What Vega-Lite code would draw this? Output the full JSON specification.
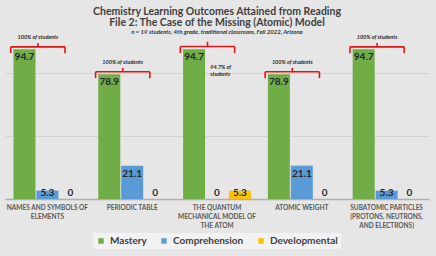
{
  "$schema": "https://vega.github.io/schema/vega-lite/v6.json",
  "width": 424,
  "height": 158,
  "autosize": "none",
  "padding": {"left": 5, "top": 41, "right": 7, "bottom": 57},
  "background": "#e6e6e6",
  "title": {
    "text": ["Chemistry Learning Outcomes Attained from Reading", "File 2: The Case of the Missing (Atomic) Model"],
    "subtitle": "n = 19 students, 4th grade, traditional classroom, Fall 2022, Arizona",
    "anchor": "middle",
    "font": "Lato",
    "fontSize": 10.5,
    "fontWeight": "bold",
    "color": "#404040",
    "lineHeight": 11,
    "subtitleFont": "Lato",
    "subtitleFontSize": 6,
    "subtitleFontStyle": "italic",
    "subtitleFontWeight": "bold",
    "subtitleColor": "#333333",
    "subtitlePadding": 0,
    "offset": 0
  },
  "config": {
    "view": {"stroke": null},
    "axis": {"labelFont": "Lato"},
    "legend": {"labelFont": "Lato", "layout": {"bottom": {"anchor": "middle"}}}
  },
  "datasets": {
    "bars": [
      {"category": "Names and Symbols of Elements", "series": "Mastery", "value": 94.7},
      {"category": "Names and Symbols of Elements", "series": "Comprehension", "value": 5.3},
      {"category": "Names and Symbols of Elements", "series": "Developmental", "value": 0},
      {"category": "Periodic Table", "series": "Mastery", "value": 78.9},
      {"category": "Periodic Table", "series": "Comprehension", "value": 21.1},
      {"category": "Periodic Table", "series": "Developmental", "value": 0},
      {"category": "The Quantum Mechanical Model of the Atom", "series": "Mastery", "value": 94.7},
      {"category": "The Quantum Mechanical Model of the Atom", "series": "Comprehension", "value": 0},
      {"category": "The Quantum Mechanical Model of the Atom", "series": "Developmental", "value": 5.3},
      {"category": "Atomic Weight", "series": "Mastery", "value": 78.9},
      {"category": "Atomic Weight", "series": "Comprehension", "value": 21.1},
      {"category": "Atomic Weight", "series": "Developmental", "value": 0},
      {"category": "Subatomic Particles (Protons, Neutrons, and Electrons)", "series": "Mastery", "value": 94.7},
      {"category": "Subatomic Particles (Protons, Neutrons, and Electrons)", "series": "Comprehension", "value": 5.3},
      {"category": "Subatomic Particles (Protons, Neutrons, and Electrons)", "series": "Developmental", "value": 0}
    ],
    "brackets": [
      {"category": "Names and Symbols of Elements", "top": 96.3, "end": 92.3, "tick": 98.8, "labelY": 102.6, "label": "100% of students"},
      {"category": "Periodic Table", "top": 80.5, "end": 76.5, "tick": 83, "labelY": 86.8, "label": "100% of students"},
      {"category": "The Quantum Mechanical Model of the Atom", "top": 96.5, "end": 92.3, "tick": 99.5, "labelY": 102.6, "label": ""},
      {"category": "Atomic Weight", "top": 80.5, "end": 76.5, "tick": 83, "labelY": 86.8, "label": "100% of students"},
      {"category": "Subatomic Particles (Protons, Neutrons, and Electrons)", "top": 96.3, "end": 92.3, "tick": 98.8, "labelY": 102.6, "label": "100% of students"}
    ],
    "notes": [
      {"category": "The Quantum Mechanical Model of the Atom", "y": 83.8, "note": ["94.7% of", "students"]}
    ]
  },
  "layer": [
    {
      "data": {"name": "bars"},
      "mark": {"type": "bar"},
      "encoding": {
        "x": {
          "field": "category", "type": "nominal",
          "sort": ["Names and Symbols of Elements", "Periodic Table", "The Quantum Mechanical Model of the Atom", "Atomic Weight", "Subatomic Particles (Protons, Neutrons, and Electrons)"],
          "scale": {"paddingInner": 0.2, "paddingOuter": 0.1},
          "axis": {
            "title": null,
            "labelAngle": 0,
            "ticks": false,
            "domainColor": "#b0b0b0",
            "domainWidth": 1.5,
            "labelColor": "#595959",
            "labelFontWeight": "bold",
            "labelFontSize": 6.5,
            "labelLineHeight": 9,
            "labelPadding": 5,
            "labelBaseline": "top",
            "labelExpr": "datum.label == 'Names and Symbols of Elements' ? ['NAMES AND SYMBOLS OF', 'ELEMENTS'] : datum.label == 'Periodic Table' ? 'PERIODIC TABLE' : datum.label == 'The Quantum Mechanical Model of the Atom' ? ['THE QUANTUM', 'MECHANICAL MODEL OF', 'THE ATOM'] : datum.label == 'Atomic Weight' ? 'ATOMIC WEIGHT' : ['SUBATOMIC PARTICLES', '(PROTONS, NEUTRONS,', 'AND ELECTRONS)']"
          }
        },
        "xOffset": {"field": "series", "type": "nominal", "sort": ["Mastery", "Comprehension", "Developmental"], "scale": {"paddingInner": 0.04}},
        "y": {
          "field": "value", "type": "quantitative",
          "scale": {"domain": [0, 100], "nice": false},
          "axis": {"title": null, "labels": false, "ticks": false, "domain": false, "grid": true, "gridColor": "#d2d2d2", "gridWidth": 1, "values": [0, 10, 20, 30, 40, 50, 60, 70, 80, 90, 100]}
        },
        "color": {
          "field": "series", "type": "nominal",
          "sort": ["Mastery", "Comprehension", "Developmental"],
          "scale": {"domain": ["Mastery", "Comprehension", "Developmental"], "range": ["#70ad47", "#5b9bd5", "#ffc000"]},
          "legend": {
            "title": null,
            "orient": "bottom",
            "direction": "horizontal",
            "symbolType": "square",
            "symbolSize": 30,
            "symbolStrokeWidth": 0,
            "labelFontSize": 10,
            "labelFontWeight": "bold",
            "labelColor": "#404040",
            "columnPadding": 12,
            "fillColor": "#f2f2f2",
            "padding": 3,
            "offset": 4
          }
        }
      }
    },
    {
      "data": {"name": "bars"},
      "transform": [{"filter": "datum.value >= 10"}],
      "mark": {"type": "text", "baseline": "middle", "dy": 8, "font": "Lato", "fontSize": 10, "fontWeight": "bold", "color": "#1f2633"},
      "encoding": {
        "x": {"field": "category", "type": "nominal", "sort": ["Names and Symbols of Elements", "Periodic Table", "The Quantum Mechanical Model of the Atom", "Atomic Weight", "Subatomic Particles (Protons, Neutrons, and Electrons)"]},
        "xOffset": {"field": "series", "type": "nominal", "sort": ["Mastery", "Comprehension", "Developmental"]},
        "y": {"field": "value", "type": "quantitative"},
        "text": {"field": "value", "type": "quantitative", "format": ".1f"}
      }
    },
    {
      "data": {"name": "bars"},
      "transform": [{"filter": "datum.value < 10"}],
      "mark": {"type": "text", "baseline": "middle", "dy": -6.5, "font": "Lato", "fontSize": 10, "fontWeight": "bold", "color": "#1f2633"},
      "encoding": {
        "x": {"field": "category", "type": "nominal", "sort": ["Names and Symbols of Elements", "Periodic Table", "The Quantum Mechanical Model of the Atom", "Atomic Weight", "Subatomic Particles (Protons, Neutrons, and Electrons)"]},
        "xOffset": {"field": "series", "type": "nominal", "sort": ["Mastery", "Comprehension", "Developmental"]},
        "y": {"datum": 0, "type": "quantitative"},
        "text": {"field": "value", "type": "quantitative", "format": "~f"}
      }
    },
    {
      "data": {"name": "brackets"},
      "mark": {"type": "rule", "color": "#e31414", "strokeWidth": 1.6},
      "encoding": {
        "x": {"field": "category", "type": "nominal", "bandPosition": -0.04, "sort": ["Names and Symbols of Elements", "Periodic Table", "The Quantum Mechanical Model of the Atom", "Atomic Weight", "Subatomic Particles (Protons, Neutrons, and Electrons)"]},
        "x2": {"field": "category", "bandPosition": 0.76},
        "y": {"field": "top", "type": "quantitative"}
      }
    },
    {
      "data": {"name": "brackets"},
      "mark": {"type": "rule", "color": "#e31414", "strokeWidth": 1.6},
      "encoding": {
        "x": {"field": "category", "type": "nominal", "bandPosition": -0.04, "sort": ["Names and Symbols of Elements", "Periodic Table", "The Quantum Mechanical Model of the Atom", "Atomic Weight", "Subatomic Particles (Protons, Neutrons, and Electrons)"]},
        "y": {"field": "top", "type": "quantitative"},
        "y2": {"field": "end"}
      }
    },
    {
      "data": {"name": "brackets"},
      "mark": {"type": "rule", "color": "#e31414", "strokeWidth": 1.6},
      "encoding": {
        "x": {"field": "category", "type": "nominal", "bandPosition": 0.76, "sort": ["Names and Symbols of Elements", "Periodic Table", "The Quantum Mechanical Model of the Atom", "Atomic Weight", "Subatomic Particles (Protons, Neutrons, and Electrons)"]},
        "y": {"field": "top", "type": "quantitative"},
        "y2": {"field": "end"}
      }
    },
    {
      "data": {"name": "brackets"},
      "mark": {"type": "rule", "color": "#e31414", "strokeWidth": 1.6},
      "encoding": {
        "x": {"field": "category", "type": "nominal", "bandPosition": 0.36, "sort": ["Names and Symbols of Elements", "Periodic Table", "The Quantum Mechanical Model of the Atom", "Atomic Weight", "Subatomic Particles (Protons, Neutrons, and Electrons)"]},
        "y": {"field": "top", "type": "quantitative"},
        "y2": {"field": "tick"}
      }
    },
    {
      "data": {"name": "brackets"},
      "mark": {"type": "text", "baseline": "middle", "font": "Lato", "fontSize": 5.5, "fontStyle": "italic", "fontWeight": "bold", "color": "#262626"},
      "encoding": {
        "x": {"field": "category", "type": "nominal", "bandPosition": 0.36, "sort": ["Names and Symbols of Elements", "Periodic Table", "The Quantum Mechanical Model of the Atom", "Atomic Weight", "Subatomic Particles (Protons, Neutrons, and Electrons)"]},
        "y": {"field": "labelY", "type": "quantitative"},
        "text": {"field": "label"}
      }
    },
    {
      "data": {"name": "notes"},
      "mark": {"type": "text", "align": "left", "baseline": "middle", "lineHeight": 7, "font": "Lato", "fontSize": 5.5, "fontStyle": "italic", "fontWeight": "bold", "color": "#262626"},
      "encoding": {
        "x": {"field": "category", "type": "nominal", "bandPosition": 0.4, "sort": ["Names and Symbols of Elements", "Periodic Table", "The Quantum Mechanical Model of the Atom", "Atomic Weight", "Subatomic Particles (Protons, Neutrons, and Electrons)"]},
        "y": {"field": "y", "type": "quantitative"},
        "text": {"field": "note"}
      }
    }
  ]
}
